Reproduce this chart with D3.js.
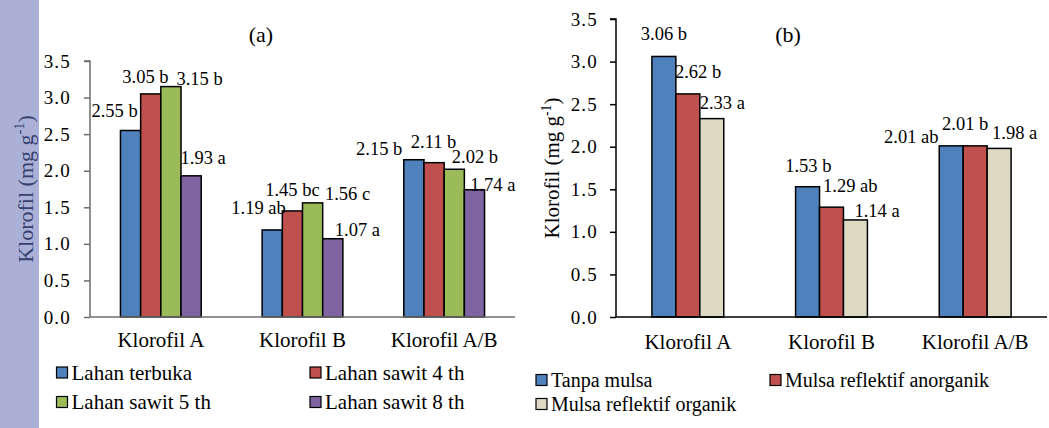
<!DOCTYPE html>
<html><head><meta charset="utf-8">
<script src="https://cdn.jsdelivr.net/npm/d3@7"></script>
<style>
html,body{margin:0;background:#fff}
* { font-family: "Liberation Serif", "Times New Roman", serif !important; }
</style></head>
<body><svg id="c" width="1049" height="428" font-family="Liberation Serif"></svg>
<script>
// ---------- data ----------
const categories = ["Klorofil A", "Klorofil B", "Klorofil A/B"];
const yTicks = [0, 0.5, 1.0, 1.5, 2.0, 2.5, 3.0, 3.5];

const seriesA = ["Lahan terbuka", "Lahan sawit 4 th", "Lahan sawit 5 th", "Lahan sawit 8 th"];
const valuesA = [
  [2.55, 3.05, 3.15, 1.93],
  [1.19, 1.45, 1.56, 1.07],
  [2.15, 2.11, 2.02, 1.74]
];
const lettersA = [
  ["b", "b", "b", "a"],
  ["ab", "bc", "c", "a"],
  ["b", "b", "b", "a"]
];

const seriesB = ["Tanpa mulsa", "Mulsa reflektif anorganik", "Mulsa reflektif organik"];
const valuesB = [
  [3.06, 2.62, 2.33],
  [1.53, 1.29, 1.14],
  [2.01, 2.01, 1.98]
];
const lettersB = [
  ["b", "b", "a"],
  ["b", "ab", "a"],
  ["ab", "b", "a"]
];

// ---------- styling / layout ----------
const colorsA = ["#4f81bd", "#c0504d", "#9bbb59", "#8064a2"];
const colorsB = ["#4f81bd", "#c0504d", "#ddd9c3"];
const nudgeA = [
  [[-16,-19.5],[-5.3,-17.2],[28.7,-7.4],[12,-17.7]],
  [[-13.7,-22],[0,-21.2],[35,-9],[24.7,-8.7]],
  [[-34.7,-10.7],[-0.5,-21],[20.7,-12.5],[18.3,-4.6]]
];
const nudgeB = [
  [[0,-22],[10.3,-22.4],[10.5,-16]],
  [[0.7,-20.7],[18.8,-21.2],[21.6,-8.9]],
  [[-40,-8.4],[-10,-21.9],[15.5,-15.4]]
];

const svg = d3.select("#c");
svg.append("rect").attr("x",0).attr("y",0).attr("width",39).attr("height",428).attr("fill","#aab0d6");

function ff(sel, size){
  return sel.attr("font-family", "Liberation Serif").style("font-family", '"Liberation Serif"')
            .attr("font-size", size);
}

function panel(cfg){
  const g = svg.append("g");
  const x = d3.scaleBand().domain(categories).range([cfg.x0, cfg.x1])
    .paddingInner(cfg.pin).paddingOuter(cfg.pin/2);
  const xs = d3.scaleBand().domain(cfg.series).range([0, x.bandwidth()]);
  const y = d3.scaleLinear().domain([0, 3.5]).range([cfg.yb, cfg.yt]);

  categories.forEach((c, ci) => {
    const gg = g.append("g").attr("transform", `translate(${x(c)},0)`);
    gg.selectAll("rect").data(cfg.values[ci]).join("rect")
      .attr("x", (d,i) => xs(cfg.series[i]))
      .attr("y", d => y(d))
      .attr("width", xs.bandwidth())
      .attr("height", d => y(0) - y(d))
      .attr("fill", (d,i) => cfg.colors[i])
      .attr("stroke", "#000").attr("stroke-width", 1.5);
    ff(gg.selectAll("text").data(cfg.values[ci]).join("text"), 18.5)
      .attr("x", (d,i) => xs(cfg.series[i]) + xs.bandwidth()/2 + cfg.nudge[ci][i][0])
      .attr("y", (d,i) => y(d) + cfg.nudge[ci][i][1] + 6)
      .attr("text-anchor", "middle")
      .attr("fill", "#000")
      .text((d,i) => d.toFixed(2) + " " + cfg.letters[ci][i]);
  });

  const ya = d3.axisLeft(y).tickValues(yTicks).tickFormat(d3.format(".1f")).tickSize(6).tickPadding(cfg.tickPad);
  const yg = g.append("g").attr("transform", `translate(${cfg.x0},0)`).call(ya);
  yg.attr("font-family", "Liberation Serif").attr("font-size", 19);
  yg.select(".domain").attr("stroke", cfg.axisColor).attr("stroke-width", 1.5).attr("d", `M-6,${cfg.yt}H0V${cfg.yb}`);
  yg.selectAll(".tick line").attr("stroke", cfg.axisColor).attr("stroke-width", 1.5);
  ff(yg.selectAll(".tick text"), 19).attr("fill", "#000").attr("letter-spacing", 1.2);

  const xa = d3.axisBottom(x).tickSize(0).tickPadding(0);
  const xg = g.append("g").attr("transform", `translate(0,${cfg.yb})`).call(xa);
  xg.attr("font-family", "Liberation Serif").attr("font-size", 21);
  xg.select(".domain").attr("stroke", cfg.axisColor).attr("stroke-width", 1.5).attr("d", `M${cfg.x0},0H${cfg.x1}`);
  ff(xg.selectAll(".tick text"), 21).attr("fill", "#000").attr("dy", null).attr("y", cfg.catY - cfg.yb + 7);

  const yl = ff(g.append("text"), cfg.ylSize)
    .attr("transform", `translate(${cfg.ylx + cfg.ylSize*0.33},${(cfg.yt+cfg.yb)/2}) rotate(-90)`)
    .attr("text-anchor", "middle")
    .attr("fill", cfg.ylColor);
  yl.append("tspan").text("Klorofil  (mg g");
  yl.append("tspan").attr("font-size", cfg.ylSize*0.65).attr("dy", -cfg.ylSize*0.4).text("-1");
  yl.append("tspan").attr("dy", cfg.ylSize*0.4).text(")");

  ff(g.append("text"), 22).attr("x", cfg.titleX).attr("y", 42).attr("text-anchor", "middle").text(cfg.title);

  cfg.series.forEach((s, i) => {
    const lx = cfg.legX[i % 2], ly = cfg.legY[Math.floor(i / 2)];
    g.append("rect").attr("x", lx).attr("y", ly - 5.5).attr("width", 11).attr("height", 11)
      .attr("fill", cfg.colors[i]).attr("stroke", "#000").attr("stroke-width", 1.2);
    ff(g.append("text"), cfg.legSize).attr("x", lx + 15).attr("y", ly + 7).text(s);
  });
}

panel({series: seriesA, values: valuesA, letters: lettersA, colors: colorsA, nudge: nudgeA,
  x0: 90, x1: 515, pin: 0.43, yb: 317, yt: 61, tickPad: 13, axisColor: "#6e6e6e",
  catY: 340, ylx: 26, ylSize: 22, ylColor: "#34406e", title: "(a)", titleX: 261,
  legX: [56.5, 310], legY: [372.5, 402], legSize: 21});

panel({series: seriesB, values: valuesB, letters: lettersB, colors: colorsB, nudge: nudgeB,
  x0: 616, x1: 1047, pin: 0.5, yb: 317, yt: 19, tickPad: 12, axisColor: "#000",
  catY: 342, ylx: 552, ylSize: 21, ylColor: "#000", title: "(b)", titleX: 788,
  legX: [536, 770], legY: [380, 404], legSize: 20});
</script></body></html>
